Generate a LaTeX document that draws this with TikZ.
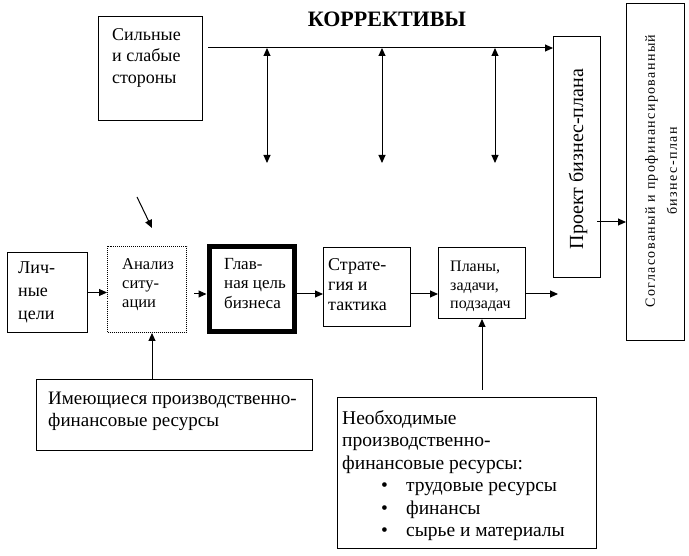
\documentclass[tikz,border=0pt]{standalone}
\usepackage{fontspec}
\setmainfont{Liberation Serif}
\newfontfamily\spacedfont[LetterSpace=10]{Liberation Serif}
\usetikzlibrary{arrows.meta,calc}
\begin{document}
\begin{tikzpicture}[x=1pt,y=-1pt,
  box/.style={draw, line width=1pt, inner sep=0pt, anchor=north west},
  txt/.style={anchor=north west, inner sep=0pt, align=left},
  arr/.style={line width=1pt, -{Triangle[length=8pt,width=7pt]}},
  darr/.style={line width=1pt, {Triangle[length=8pt,width=7pt]}-{Triangle[length=8pt,width=7pt]}}]
\useasboundingbox (0,0) rectangle (689,556);

% boxes
\node[box, minimum width=104pt, minimum height=104pt] (sil) at (98,16) {};
\node[box, minimum width=47pt, minimum height=241pt] (proj) at (553,36) {};
\node[box, minimum width=58pt, minimum height=337pt] (agreed) at (626,3) {};
\node[box, minimum width=80pt, minimum height=80pt] (lich) at (7,252) {};
\node[box, dash pattern=on 1pt off 1pt, minimum width=79pt, minimum height=86pt] (anal) at (107,246) {};
\node[box, line width=5pt, minimum width=85pt, minimum height=85pt] (goal) at (206.5,244.5) {};
\node[box, minimum width=87pt, minimum height=79pt] (strat) at (323,247) {};
\node[box, minimum width=87pt, minimum height=71pt] (plans) at (438,247) {};
\node[box, minimum width=276pt, minimum height=71pt] (imeu) at (36,379) {};
\node[box, minimum width=259pt, minimum height=151pt] (neob) at (337,397) {};

% texts
\node[txt, font=\fontsize{18}{21.5}\selectfont] (silt) at (112,28) {Сильные\\и слабые\\стороны};
\node[inner sep=0pt, font=\bfseries\fontsize{22}{26}\selectfont] (kor) at (387,19.5) {КОРРЕКТИВЫ};
\node[txt, font=\fontsize{18}{23}\selectfont] (licht) at (18,262) {Лич-\\ные\\цели};
\node[txt, font=\fontsize{16.5}{19}\selectfont] (analt) at (122,258) {Анализ\\ситу-\\ации};
\node[txt, font=\fontsize{17}{19.5}\selectfont] (goalt) at (224,258) {Глав-\\ная цель\\бизнеса};
\node[txt, font=\fontsize{18}{20}\selectfont] (stratt) at (328,258) {Страте-\\гия и\\тактика};
\node[txt, font=\fontsize{16}{18.5}\selectfont] (planst) at (450,261) {Планы,\\задачи,\\подзадач};
\node[txt, font=\fontsize{19}{21.5}\selectfont] (imeut) at (48,392) {Имеющиеся производственно-\\финансовые ресурсы};
\node[txt, font=\fontsize{19.5}{22.5}\selectfont] (neobt) at (342,410) {Необходимые\\производственно-\\финансовые ресурсы:\\
\hspace*{39pt}\makebox[25pt][l]{\textbullet}трудовые ресурсы\\
\hspace*{39pt}\makebox[25pt][l]{\textbullet}финансы\\
\hspace*{39pt}\makebox[25pt][l]{\textbullet}сырье и материалы};
\node[rotate=90, inner sep=0pt, font=\fontsize{20}{24}\selectfont] (projt) at (578,159) {Проект бизнес-плана};
\node[rotate=90, inner sep=0pt, align=center, font=\spacedfont\fontsize{14}{22}\selectfont] (agt) at (661,171) {Согласованый и профинансированный\\бизнес-план};

% connectors
\coordinate (k0) at (208,48);
\draw[arr] (k0) -- (k0 -| proj.west);
\coordinate (d1t) at (267,48); \coordinate (d1b) at (267,163);
\coordinate (d2t) at (382,48); \coordinate (d2b) at (382,163);
\coordinate (d3t) at (495,48); \coordinate (d3b) at (495,163);
\draw[darr] (d1t) -- (d1b);
\draw[darr] (d2t) -- (d2b);
\draw[darr] (d3t) -- (d3b);
\draw[arr] (lich.east) -- (lich.east -| anal.west);
\coordinate (a1) at (194,294);
\draw[arr] (a1) -- (a1 -| goal.west);
\draw[arr] (goal.east |- a1) -- (a1 -| strat.west);
\draw[arr] (strat.east |- a1) -- (a1 -| plans.west);
\coordinate (p1) at (558,294);
\draw[arr] (plans.east |- p1) -- (p1);
\coordinate (q1) at (597,222);
\draw[arr] (q1) -- (q1 -| agreed.west);
\coordinate (s0) at (137,197); \coordinate (s1) at (152,228);
\draw[arr] (s0) -- (s1);
\coordinate (u1) at (152,379);
\draw[arr] (u1 |- imeu.north) -- (u1 |- anal.south);
\coordinate (n1) at (482,390);
\draw[arr] (n1) -- (n1 |- plans.south);
\end{tikzpicture}
\end{document}
